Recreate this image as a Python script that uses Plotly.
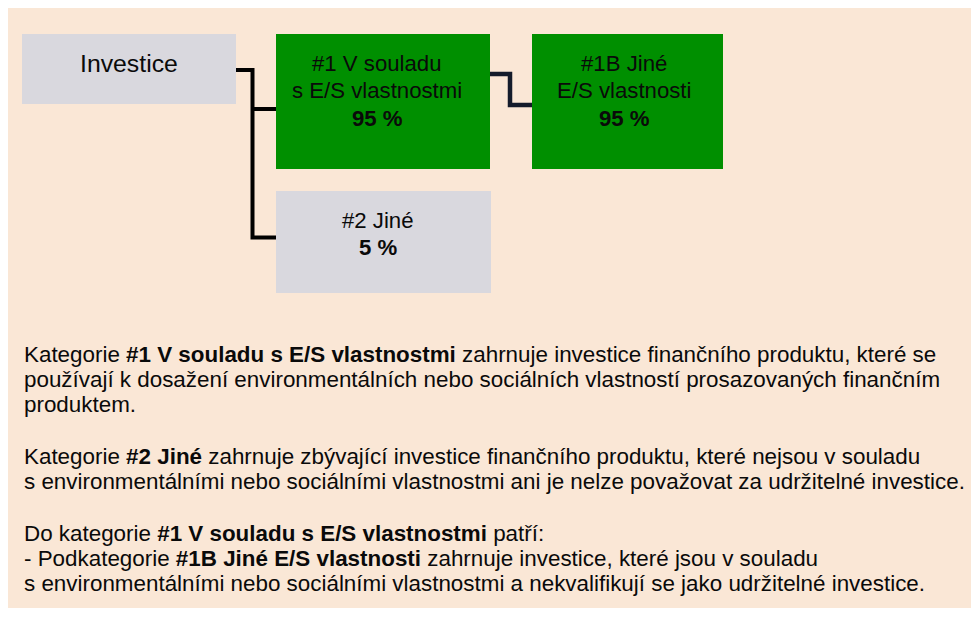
import plotly.graph_objects as go

# ---- data ----
box_titles = ["Investice", "#1 V souladu<br>s E/S vlastnostmi", "#1B Jiné<br>E/S vlastnosti", "#2 Jiné"]
box_shares = [None, 95, 95, 5]
box_colors = ["#D9D8DE", "#008F00", "#008F00", "#D9D8DE"]

para1 = [
    "Kategorie <b>#1 V souladu s E/S vlastnostmi</b> zahrnuje investice finančního produktu, které se",
    "používají k dosažení environmentálních nebo sociálních vlastností prosazovaných finančním",
    "produktem.",
]
para2 = [
    "Kategorie <b>#2 Jiné</b> zahrnuje zbývající investice finančního produktu, které nejsou v souladu",
    "s environmentálními nebo sociálními vlastnostmi ani je nelze považovat za udržitelné investice.",
]
para3 = [
    "Do kategorie <b>#1 V souladu s E/S vlastnostmi</b> patří:",
    "- Podkategorie <b>#1B Jiné E/S vlastnosti</b> zahrnuje investice, které jsou v souladu",
    "s environmentálními nebo sociálními vlastnostmi a nekvalifikují se jako udržitelné investice.",
]

# ---- layout geometry (page pixel coordinates; figure sits at page offset 8,8) ----
OFF = 8
W, H = 971, 600
FONT = "Liberation Sans, Arial, sans-serif"
box_rects = [(22, 34, 236, 104), (276, 34, 490, 169), (532, 34, 723, 169), (276, 191, 491, 293)]
box_text_x = [129, 377, 624, 378]
box_text_y0 = [63, 63, 63, 220]
line_step = 27.5

shapes = []
for (x0, y0, x1, y1), c in zip(box_rects, box_colors):
    shapes.append(dict(type="rect", x0=x0, y0=y0, x1=x1, y1=y1, fillcolor=c,
                       line=dict(width=0), layer="below"))
# connectors
shapes.append(dict(type="path", path="M236,70 H252.5 V237.5 H276", line=dict(color="#000000", width=4)))
shapes.append(dict(type="path", path="M252.5,109 H276", line=dict(color="#000000", width=4)))
shapes.append(dict(type="path", path="M490,74 H510 V105 H532", line=dict(color="#141B2B", width=4.5)))

annotations = []
for i, (t, s) in enumerate(zip(box_titles, box_shares)):
    lines = t.split("<br>")
    if s is not None:
        lines.append(f"<b>{s} %</b>")
    size = 24.8 if i == 0 else 22.2
    for k, ln in enumerate(lines):
        annotations.append(dict(x=box_text_x[i], y=box_text_y0[i] + k * line_step, text=ln,
                                showarrow=False, xanchor="center", yanchor="middle",
                                font=dict(family=FONT, size=size, color="#0A0A0A")))

baselines = [[361.7, 386.7, 411.7], [463, 488], [540, 565, 590]]
for para, bls in zip([para1, para2, para3], baselines):
    for ln, b in zip(para, bls):
        annotations.append(dict(x=22, y=b - 7, text=ln, showarrow=False,
                                xanchor="left", yanchor="middle",
                                font=dict(family=FONT, size=22.4, color="#0A0A0A")))

fig = go.Figure()
fig.update_layout(
    width=W, height=H, margin=dict(l=0, r=0, t=0, b=0),
    paper_bgcolor="#FAE7D6", plot_bgcolor="#FAE7D6",
    xaxis=dict(range=[OFF, OFF + W], visible=False, fixedrange=True),
    yaxis=dict(range=[OFF + H, OFF], visible=False, fixedrange=True),
    shapes=shapes, annotations=annotations, showlegend=False,
)
fig.write_html("out.html")
